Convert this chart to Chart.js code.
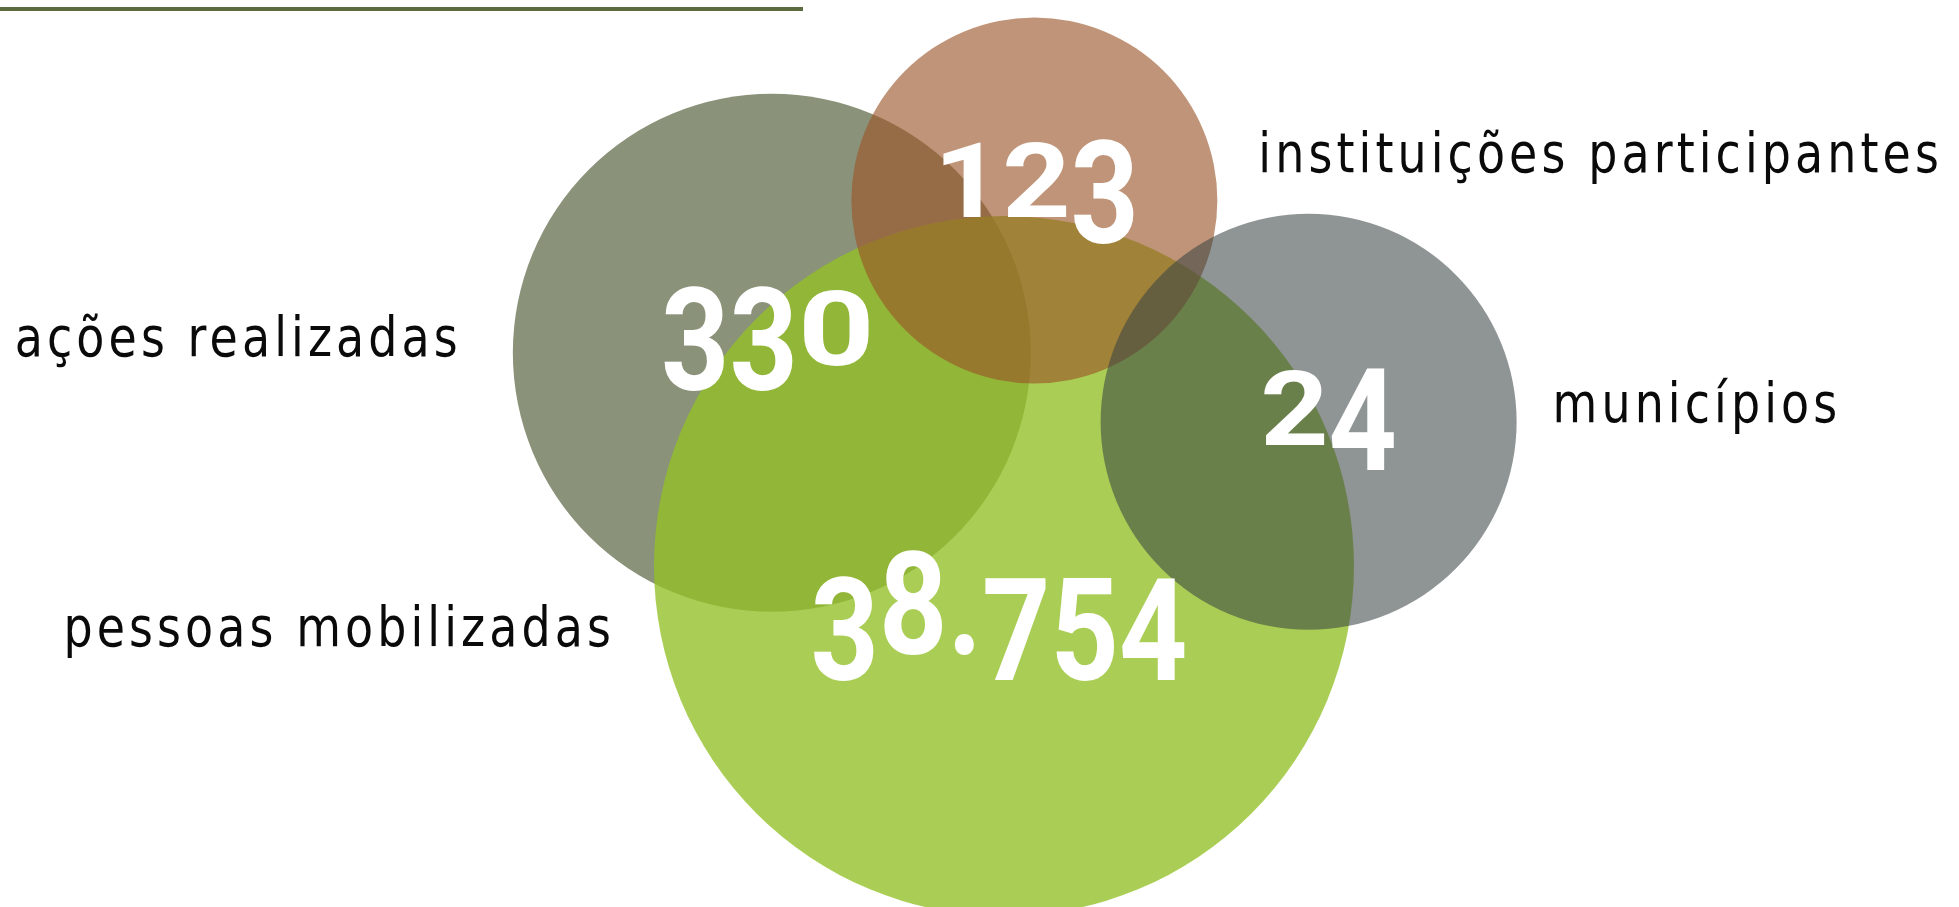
<!DOCTYPE html>
<html>
<head>
<meta charset="utf-8">
<script src="https://cdn.jsdelivr.net/npm/chart.js@4.4.1/dist/chart.umd.min.js"></script>
<style>
  html, body { margin: 0; padding: 0; background: #ffffff; }
  #wrap { position: relative; width: 1959px; height: 907px; }
</style>
</head>
<body>
<div id="wrap"><canvas id="c"></canvas></div>
<script>
// ---- data ----
const categories = ['ações realizadas', 'pessoas mobilizadas', 'instituições participantes', 'municípios'];
const values = [330, 38754, 123, 24];
// bubble centres in chart units (x: 0-100 left→right, y: 0-100 bottom→top) and bubble radius
const bubbleX = [39.4, 51.25, 52.8, 66.8];
const bubbleY = [61.1, 37.6, 77.9, 53.5];
const bubbleR = [259, 350, 183, 208];

// ---- styles ----
const fills = [
  'rgba(138,146,121,1)',
  'rgba(147,193,38,0.785)',
  'rgba(155,85,41,0.63)',
  'rgba(58,69,67,0.57)'
];
// label placement relative to bubble centre: [dx, dy, align]
const labelPlace = [
  [-310, 3, 'right'],
  [-389, 80, 'right'],
  [224, -28, 'left'],
  [244, 0, 'left']
];
// number placement relative to bubble centre: [dx, dy] (centre x, baseline)
const numPlace = [[-4, 12], [-5, 88], [2, 17], [20, 23]];

const NUM_FONT = "Roboto, 'DejaVu Sans', sans-serif";
const NUM_SIZE = 142;
const NUM_SX = 0.84;
const LBL_FONT = "'DejaVu Sans', sans-serif";
const LBL_SIZE = 56;
const LBL_SX = 0.82;

function fmt(v) {
  return String(v).replace(/\B(?=(\d{3})+(?!\d))/g, '.');
}

// draw a number emulating old-style figures
function drawOldStyle(ctx, text, cx, baseline) {
  ctx.save();
  ctx.font = 'bold ' + NUM_SIZE + 'px ' + NUM_FONT;
  ctx.fillStyle = '#ffffff';
  ctx.textBaseline = 'alphabetic';
  ctx.textAlign = 'left';
  const zeroWide = 1.12;
  const chars = [...text];
  const widths = chars.map(ch => {
    const w = ctx.measureText(ch).width * NUM_SX;
    return (ch === '0') ? w * zeroWide : w;
  });
  const total = widths.reduce((a, b) => a + b, 0);
  let x = cx - total / 2;
  const small = 0.735;          // x-height digits
  const drop = NUM_SIZE * 0.18; // descending digits
  chars.forEach((ch, i) => {
    ctx.save();
    if ('012'.includes(ch)) {
      ctx.translate(x, baseline);
      ctx.scale(NUM_SX * (ch === '0' ? zeroWide : 1), small);
    } else if ('34579'.includes(ch)) {
      ctx.translate(x, baseline + drop);
      ctx.scale(NUM_SX, 1);
    } else {
      ctx.translate(x, baseline);
      ctx.scale(NUM_SX, 1);
    }
    ctx.fillText(ch, 0, 0);
    ctx.restore();
    x += widths[i];
  });
  ctx.restore();
}

const overlayPlugin = {
  id: 'overlay',
  beforeDatasetsDraw(chart) {
    const ctx = chart.ctx;
    ctx.save();
    ctx.strokeStyle = '#5b6b3f';
    ctx.lineWidth = 4;
    ctx.beginPath();
    ctx.moveTo(0, 9);
    ctx.lineTo(803, 9);
    ctx.stroke();
    ctx.restore();
  },
  afterDatasetsDraw(chart) {
    const ctx = chart.ctx;
    const meta = chart.getDatasetMeta(0);
    meta.data.forEach((pt, i) => {
      const [ndx, ndy] = numPlace[i];
      drawOldStyle(ctx, fmt(values[i]), pt.x + ndx, pt.y + ndy);
      const [ldx, ldy, align] = labelPlace[i];
      ctx.save();
      ctx.font = LBL_SIZE + 'px ' + LBL_FONT;
      ctx.letterSpacing = '5px';
      ctx.fillStyle = '#0a0a0a';
      ctx.textAlign = align;
      ctx.textBaseline = 'alphabetic';
      ctx.translate(pt.x + ldx, pt.y + ldy);
      ctx.scale(LBL_SX, 1);
      ctx.fillText(categories[i], 0, 0);
      ctx.restore();
    });
  }
};

new Chart(document.getElementById('c'), {
  type: 'bubble',
  data: {
    labels: categories,
    datasets: [{
      data: bubbleX.map((x, i) => ({ x: x, y: bubbleY[i], r: bubbleR[i] })),
      backgroundColor: fills,
      borderWidth: 0,
      hoverBorderWidth: 0,
      clip: false
    }]
  },
  options: {
    responsive: true,
    maintainAspectRatio: false,
    animation: false,
    events: [],
    layout: { padding: 0, autoPadding: false },
    plugins: { legend: { display: false }, tooltip: { enabled: false } },
    scales: {
      x: { type: 'linear', min: 0, max: 100, display: false },
      y: { type: 'linear', min: 0, max: 100, display: false }
    }
  },
  plugins: [overlayPlugin]
});
</script>
</body>
</html>
